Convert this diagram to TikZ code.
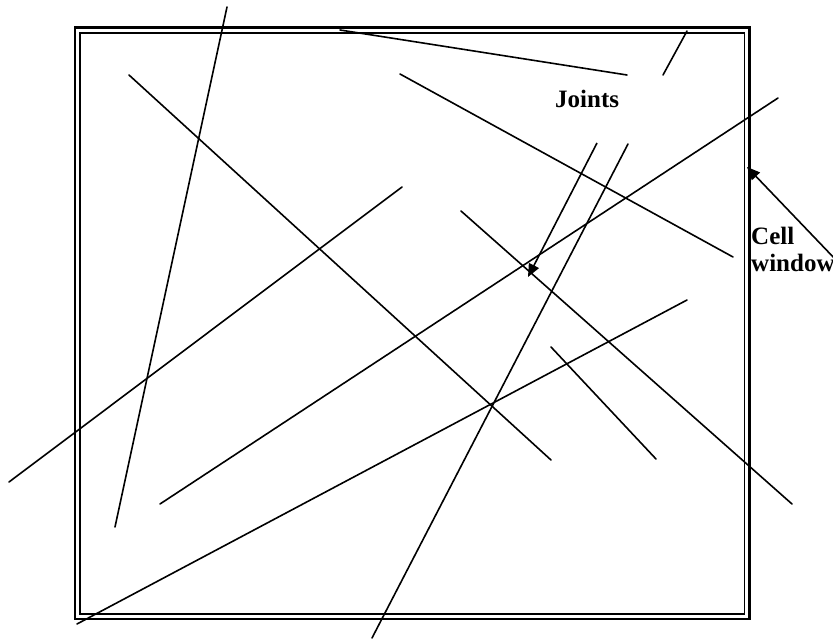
\documentclass[tikz,border=0pt]{standalone}
\usepackage{fontspec}
\setmainfont{Liberation Serif}
\usetikzlibrary{arrows.meta}
\begin{document}
\begin{tikzpicture}[x=1pt,y=-1pt,
  joint/.style={line width=1.6pt,line cap=round},
  pointer/.style={line width=1.6pt,-{Triangle[length=13pt,width=11pt]}},
  lbl/.style={font=\bfseries\fontsize{25}{27}\selectfont,anchor=base west,inner sep=0pt}]
\useasboundingbox (0,0) rectangle (833,639);
% cell window frame
\draw[line width=2.5pt] (75,27.5) rectangle (749.5,619);
\draw[line width=1.6pt] (80,33) rectangle (744.5,614);
% joints
\draw[joint] (227,7) -- (115,527);
\draw[joint] (340,30) -- (627,75);
\draw[joint] (687,31) -- (663,75);
\draw[joint] (129,75) -- (551,460);
\draw[joint] (400,74) -- (733,257);
\draw[joint] (9,482) -- (402,187);
\draw[joint] (160,504) -- (778,98);
\draw[joint] (77,624) -- (687,300);
\draw[joint] (461,211) -- (792,504);
\draw[joint] (551,347) -- (656,459);
\draw[joint] (628,144) -- (372,638);
% labels
\node[lbl] (joints) at (555,108) {Joints};
\node[lbl] (cell) at (751,245) {Cell};
\node[lbl] (window) at (751,272) {window};
% pointers
\coordinate (jtail) at (597,143);
\coordinate (jtip) at (528,277);
\coordinate (ctail) at (836,260);
\coordinate (ctip) at (747,167);
\draw[pointer] (jtail) -- (jtip);
\draw[pointer] (ctail) -- (ctip);
\end{tikzpicture}
\end{document}
